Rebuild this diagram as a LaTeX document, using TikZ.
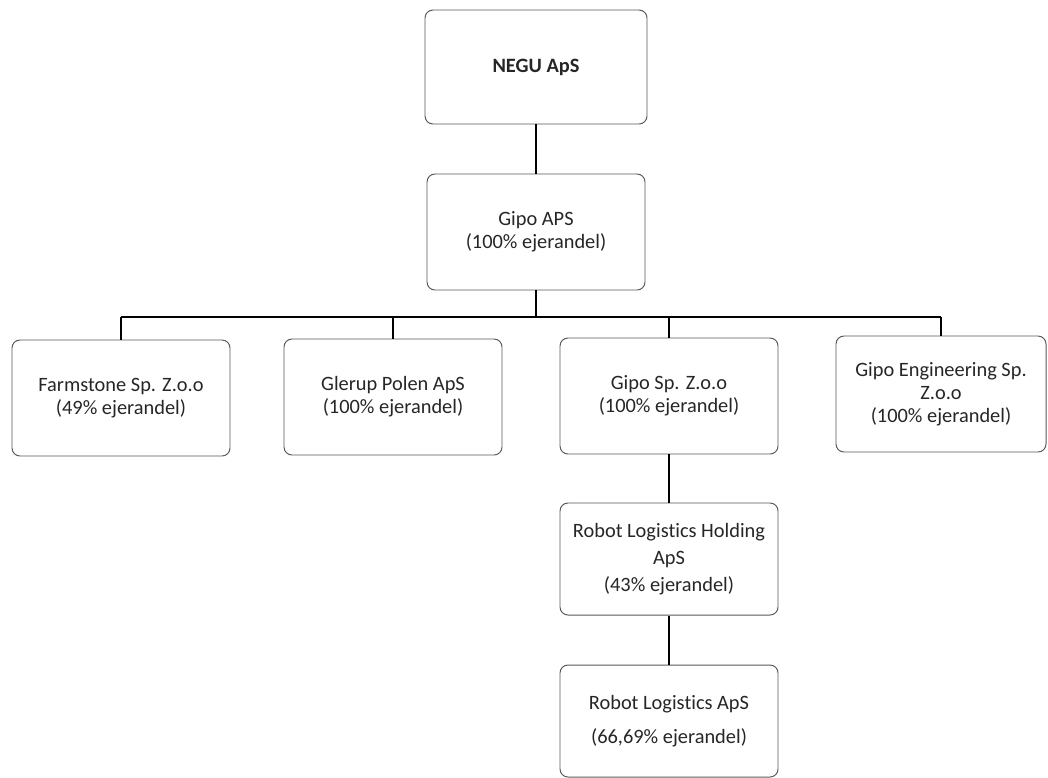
\documentclass[tikz,border=0pt]{standalone}
\usepackage{fontspec}
\setmainfont{Carlito}[Ligatures=NoCommon]
\usetikzlibrary{positioning}

\begin{document}
\begin{tikzpicture}[ box/.style = {draw=black!65, line width=0.7pt, rounded corners=2mm, align=center, minimum width=5.45cm, minimum height=2.9cm, font=\fontsize{14.5}{16.5}\selectfont, text=black!85}, link/.style = {line width=1.4pt, black}]

    \useasboundingbox (0,0) rectangle (26.2,-19.45);

    % boxes
    \node[box, minimum width=5.55cm, minimum height=2.85cm, font=\fontsize{14.5}{16.5}\selectfont\bfseries] (negu) at (13.4,-1.675) {NEGU ApS};
    \node[box] (gipoaps) at (13.4,-5.8) {Gipo APS\\(100\% ejerandel)};
    \node[box] (farm) at (3.025,-9.95) {Farmstone Sp. Z.o.o\\(49\% ejerandel)};
    \node[box] (glerup) at (9.825,-9.925) {Glerup Polen ApS\\(100\% ejerandel)};
    \node[box] (gipsp) at (16.725,-9.9) {Gipo Sp. Z.o.o\\(100\% ejerandel)};
    \node[box, minimum width=5.25cm] (gipeng) at (23.525,-9.85) {Gipo Engineering Sp.\\Z.o.o\\(100\% ejerandel)};
    \node[box, minimum height=2.8cm, font=\fontsize{14.5}{19}\selectfont] (rlh) at (16.725,-13.975) {Robot Logistics Holding\\ApS\\(43\% ejerandel)};
    \node[box, minimum height=2.8cm, font=\fontsize{14.5}{24}\selectfont] (rl) at (16.725,-18.025) {Robot Logistics ApS\\(66,69\% ejerandel)};

    % lines
    \coordinate (bus) at (13.4,-7.925);
    \draw[link] (negu) -- (gipoaps);
    \draw[link] (gipoaps.south) -- (bus);
    \draw[link] (farm.north |- bus) -- (gipeng.north |- bus);
    \foreach \n in {farm, glerup, gipsp, gipeng}
        \draw[link] (\n.north) -- (\n.north |- bus);
    \draw[link] (gipsp) -- (rlh);
    \draw[link] (rlh) -- (rl);

\end{tikzpicture}
\end{document}
